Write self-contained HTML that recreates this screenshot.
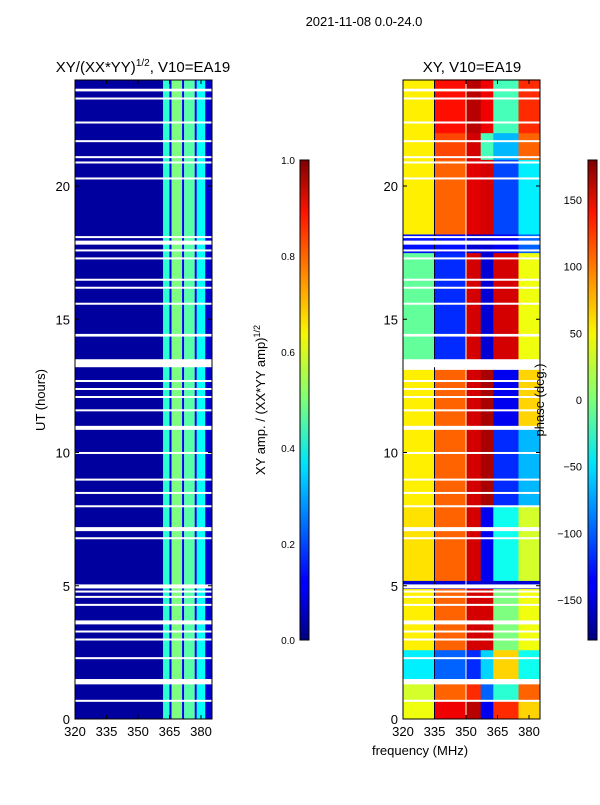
<!DOCTYPE html>
<html><head><meta charset="utf-8"><style>
body{margin:0;background:#fff;font-family:"Liberation Sans",sans-serif}
svg text{font-family:"Liberation Sans",sans-serif;fill:#000}
</style></head><body>
<svg id="c" width="600" height="800" xmlns="http://www.w3.org/2000/svg">
<defs>
<linearGradient id="jet" x1="0" y1="1" x2="0" y2="0">
<stop offset="0" stop-color="#00007f"/><stop offset="0.11" stop-color="#0000ff"/><stop offset="0.125" stop-color="#0000ff"/>
<stop offset="0.34" stop-color="#00ccff"/><stop offset="0.37" stop-color="#00e5f8"/><stop offset="0.5" stop-color="#7dff7a"/>
<stop offset="0.64" stop-color="#f8f500"/><stop offset="0.75" stop-color="#ff9400"/><stop offset="0.89" stop-color="#ff1400"/>
<stop offset="1" stop-color="#7f0000"/></linearGradient>
</defs>
<text x="364" y="26" font-size="13" text-anchor="middle">2021-11-08 0.0-24.0</text>
<text x="143" y="72" font-size="15" text-anchor="middle">XY/(XX*YY)<tspan font-size="10" dy="-6">1/2</tspan><tspan dy="6">, V10=EA19</tspan></text>
<text x="472" y="72" font-size="15" text-anchor="middle">XY, V10=EA19</text>
<g id="left"></g>
<g id="right"></g>
<g id="axes"></g>
<text transform="translate(45,400) rotate(-90)" font-size="13" text-anchor="middle">UT (hours)</text>
<text transform="translate(265,400) rotate(-90)" font-size="13" text-anchor="middle">XY amp. / (XX*YY amp)<tspan font-size="9" dy="-5">1/2</tspan></text>
<text transform="translate(544,400) rotate(-90)" font-size="13" text-anchor="middle">phase (deg.)</text>
<text x="420" y="755" font-size="13" text-anchor="middle">frequency (MHz)</text>
<rect x="300" y="160" width="9" height="480" fill="url(#jet)" stroke="#000"/>
<rect x="588" y="160" width="9" height="480" fill="url(#jet)" stroke="#000"/>
</svg>
<script>
// ---- data ----
const ampFreqEdges=[320,362,365,366,371,372,377,378,382,385.2];
const ampValues=[0.03,0.42,0.1,0.5,0.12,0.46,0.12,0.38,0.08];
const gapHours=[[23.55,23.65],[23.25,23.32],[22.35,22.42],[21.65,21.72],[21.05,21.12],[20.85,20.92],[20.25,20.32],[18.05,18.12],[17.8,17.95],[17.55,17.62],[17.25,17.32],[16.45,16.52],[16.15,16.22],[15.55,15.62],[14.35,14.45],[13.2,13.5],[12.65,12.72],[12.35,12.42],[12.05,12.12],[11.55,11.62],[10.85,11.0],[9.95,10.02],[8.95,9.02],[8.45,8.52],[7.95,8.02],[7.05,7.2],[6.75,6.82],[4.9,5.05],[4.75,4.82],[4.55,4.62],[4.25,4.32],[3.55,3.7],[3.25,3.32],[2.95,3.02],[2.25,2.32],[1.3,1.5],[0.65,0.72]];
const phaseFreqEdges=[320,335,350,357,363,375,385.2];
const phaseTimeEdges=[0,0.7,1.5,2.6,4.9,5.2,8,11,13.1,13.5,17.5,18.2,21,22,24];
const phaseValues=[
[40,140,160,-140,120,60],
[30,100,120,-100,-30,100],
[-50,-100,-120,-60,60,-40],
[50,100,150,150,0,40],
[-150,-150,-150,-150,-150,-150],
[55,100,150,-140,-40,30],
[50,100,150,165,-120,-70],
[50,100,150,165,-140,60],
[999,999,999,999,999,999],
[-10,-120,150,-150,150,40],
[-130,-130,-150,-150,-140,-100],
[50,100,145,150,-110,-50],
[50,110,150,-20,-70,100],
[50,130,160,140,-20,120]];
const timeTicks=[0,5,10,15,20];
const freqTicks=[320,335,350,365,380];
const ampTicks=[0,0.2,0.4,0.6,0.8,1.0];
const phaseTicks=[-150,-100,-50,0,50,100,150];
// ---- scales ----
const NS="http://www.w3.org/2000/svg";
const yT=h=>719-h*26.65;
const xL=f=>75+(f-320)*2.1;
const xR=f=>403+(f-320)*2.1;
const yA=v=>640-v*480;
const yP=v=>400-v*480/360;
function jet(v){const c=x=>Math.max(0,Math.min(1,x));const r=c(1.5-Math.abs(4*v-3)),g=c(1.5-Math.abs(4*v-2)),b=c(1.5-Math.abs(4*v-1));return `rgb(${r*255|0},${g*255|0},${b*255|0})`;}
function mk(p,tag,a){const e=document.createElementNS(NS,tag);for(const k in a)e.setAttribute(k,a[k]);p.appendChild(e);return e;}
const L=document.getElementById('left'),R=document.getElementById('right'),A=document.getElementById('axes');
ampValues.forEach((v,i)=>{const r=mk(L,'rect',{x:xL(ampFreqEdges[i]),y:80,width:xL(ampFreqEdges[i+1])-xL(ampFreqEdges[i]),height:639,fill:jet(v)});

});
phaseValues.forEach((row,j)=>row.forEach((v,i)=>{if(v>900)return;const r=mk(R,'rect',{x:xR(phaseFreqEdges[i]),y:yT(phaseTimeEdges[j+1]),width:xR(phaseFreqEdges[i+1])-xR(phaseFreqEdges[i])+0.5,height:yT(phaseTimeEdges[j])-yT(phaseTimeEdges[j+1])+0.5,fill:jet((v+180)/360)});

}));
mk(R,'line',{x1:xR(335),x2:xR(335),y1:80,y2:719,stroke:'#003',"stroke-width":1});
mk(R,'line',{x1:xR(350),x2:xR(350),y1:80,y2:719,stroke:'#ffd',"stroke-width":1});
gapHours.forEach(g=>{[[75,137],[403,137]].forEach(([x,w])=>{const r=mk(x<300?L:R,'rect',{x:x,y:yT(g[1]),width:w,height:Math.max(2,yT(g[0])-yT(g[1])),fill:'#fff'});

});});
[75,403].forEach(x0=>{const f=mk(A,'rect',{x:x0,y:80,width:137,height:639,fill:'none',stroke:'#000'});


timeTicks.forEach(t=>{mk(A,'line',{x1:x0,x2:x0+4,y1:yT(t),y2:yT(t),stroke:'#000'});mk(A,'line',{x1:x0+133,x2:x0+137,y1:yT(t),y2:yT(t),stroke:'#000'});
const tx=mk(A,'text',{x:x0-5,y:yT(t)+5,"font-size":13,"text-anchor":"end"});tx.textContent=t;

});
freqTicks.forEach(fq=>{const x=x0+(fq-320)*2.1;mk(A,'line',{x1:x,x2:x,y1:715,y2:719,stroke:'#000'});mk(A,'line',{x1:x,x2:x,y1:80,y2:84,stroke:'#000'});
const tx=mk(A,'text',{x:x,y:736,"font-size":13,"text-anchor":"middle"});tx.textContent=fq;

});});
ampTicks.forEach(v=>{mk(A,'line',{x1:305,x2:309,y1:yA(v),y2:yA(v),stroke:'#000'});const tx=mk(A,'text',{x:295,y:yA(v)+4,"font-size":10,"text-anchor":"end"});tx.textContent=v.toFixed(1);

});
phaseTicks.forEach(v=>{mk(A,'line',{x1:593,x2:597,y1:yP(v),y2:yP(v),stroke:'#000'});const tx=mk(A,'text',{x:582,y:yP(v)+4,"font-size":11,"text-anchor":"end"});tx.textContent=v<0?'\u2212'+(-v):v;

});
</script>
</body></html>
